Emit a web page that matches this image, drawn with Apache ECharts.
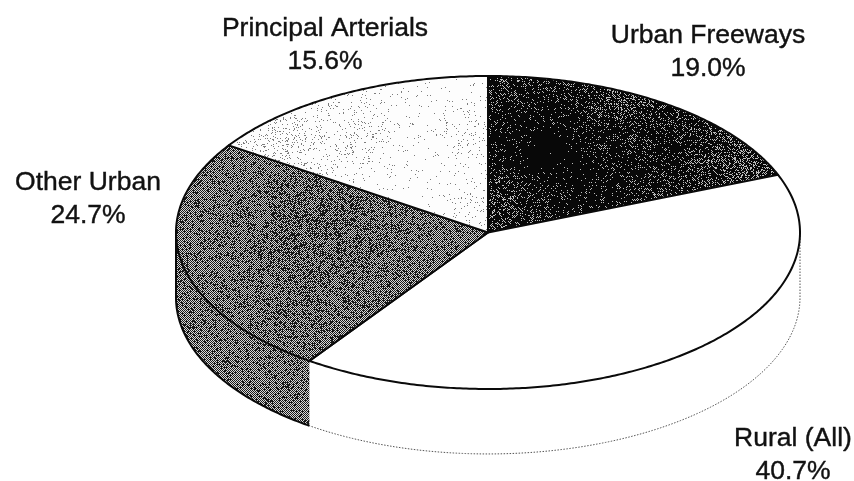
<!DOCTYPE html>
<html>
<head>
<meta charset="utf-8">
<style>html,body{margin:0;padding:0;background:#fff}#c{width:854px;height:481px}</style>
<script src="https://cdn.jsdelivr.net/npm/echarts@6/dist/echarts.min.js"></script>
</head>
<body>
<div id="c"></div>
<script>
// ---- data ----
const categories = ['Urban Freeways', 'Rural (All)', 'Other Urban', 'Principal Arterials'];
const shares = [19.0, 40.7, 24.7, 15.6];

// ---- layout ----
const W = 854, H = 481;
const DEPTH = 0.415;            // pie wall height, in vertical radii
const labelBoxes = [
  { x: 708, y: 19 }, { x: 793, y: 422 }, { x: 88, y: 166 }, { x: 325, y: 12 }
];

// ---- print-style dithered textures ----
function hash(x, y) {
  let h = (x * 374761393 + y * 668265263) | 0;
  h = Math.imul(h ^ (h >>> 13), 1274126177);
  return ((h ^ (h >>> 16)) >>> 0) / 4294967296;
}
function texture(base, blobs, checker, darkV, lightV) {
  const cv = document.createElement('canvas');
  cv.width = W; cv.height = H;
  const ctx = cv.getContext('2d');
  const img = ctx.createImageData(W, H);
  for (let y = 0; y < H; y++) for (let x = 0; x < W; x++) {
    let d = base;
    for (const b of blobs) {
      const q = ((x - b[0]) ** 2 + (y - b[1]) ** 2) / (b[2] * b[2]);
      d += b[3] * Math.exp(-q);
    }
    const s = checker * ((x + y) % 2 ? -1 : 1);
    const dark = hash(x, y) < d + s;
    const v = dark ? darkV : lightV;
    const i = (y * W + x) * 4;
    img.data[i] = img.data[i + 1] = img.data[i + 2] = v;
    img.data[i + 3] = 255;
  }
  ctx.putImageData(img, 0, 0);
  return { image: cv, repeat: 'no-repeat' };
}
const fills = [
  texture(0.80, [[545, 150, 60, 0.3], [650, 150, 45, 0.14], [600, 205, 30, 0.1], [620, 105, 40, -0.1], [505, 190, 25, -0.12], [740, 165, 25, -0.1]], 0.12, 8, 190),
  '#ffffff',
  texture(0.58, [[330, 235, 75, 0.18], [290, 320, 30, 0.1]], 0.42, 25, 215),
  texture(0.015, [[280, 150, 50, 0.1], [365, 135, 30, 0.06], [470, 130, 25, 0.05], [470, 210, 20, 0.07]], 0, 125, 253)
];

// ---- geometry through the chart's scales ----
const cumulative = [];
shares.reduce((acc, v, i) => (cumulative[i] = acc, acc + v), 0);
const total = shares.reduce((a, b) => a + b, 0);
const angleOf = pct => pct / total * Math.PI * 2;
function rim(api, a0, a1, drop) {
  const n = Math.max(2, Math.ceil((a1 - a0) / 0.01));
  const pts = [];
  for (let k = 0; k <= n; k++) {
    const t = a0 + (a1 - a0) * k / n;
    pts.push(api.coord([Math.sin(t), Math.cos(t) - drop]));
  }
  return pts;
}
function renderTop(params, api) {
  const i = params.dataIndex;
  const a0 = angleOf(cumulative[i]), a1 = angleOf(cumulative[i] + api.value(1));
  const pts = [api.coord([0, 0])].concat(rim(api, a0, a1, 0));
  return {
    type: 'polygon',
    shape: { points: pts },
    style: { fill: fills[i], stroke: '#0a0a0a', lineWidth: 2, lineJoin: 'round' }
  };
}
function renderWall(params, api) {
  const i = params.dataIndex;
  const a0 = Math.max(angleOf(cumulative[i]), Math.PI / 2);
  const a1 = Math.min(angleOf(cumulative[i] + api.value(1)), Math.PI * 1.5);
  if (a1 <= a0) return null;
  const upper = rim(api, a0, a1, 0);
  const lower = rim(api, a0, a1, DEPTH);
  const isLight = fills[i] === '#ffffff';
  const face = {
    type: 'polygon',
    shape: { points: upper.concat(lower.slice().reverse()) },
    style: { fill: fills[i] }
  };
  const edge = {
    type: 'polyline',
    shape: { points: isLight ? [upper[0]].concat(lower) : lower.concat([upper[upper.length - 1]]) },
    style: isLight
      ? { fill: 'none', stroke: '#555555', lineWidth: 1, lineDash: [1.5, 1.5] }
      : { fill: 'none', stroke: '#0a0a0a', lineWidth: 2 }
  };
  return { type: 'group', children: [face, edge] };
}

const rows = categories.map((c, i) => [c, shares[i]]);
const chart = echarts.init(document.getElementById('c'), null, { renderer: 'canvas', width: W, height: H });
const font = { fontFamily: 'Liberation Sans', fontSize: 26.5, fill: '#111111', stroke: '#111111', lineWidth: 0.4, lineHeight: 33, align: 'center', verticalAlign: 'top' };
chart.setOption({
  animation: false,
  backgroundColor: '#ffffff',
  grid: { left: 176, width: 624, top: 76, height: 313 * (1 + DEPTH / 2) },
  xAxis: { type: 'value', min: -1, max: 1, show: false },
  yAxis: { type: 'value', min: -1 - DEPTH, max: 1, show: false },
  graphic: categories.map((c, i) => ({
    type: 'text',
    x: labelBoxes[i].x,
    y: labelBoxes[i].y,
    style: Object.assign({ text: c + '\n' + shares[i].toFixed(1) + '%' }, font)
  })),
  series: [
    { type: 'custom', name: 'wall', coordinateSystem: 'cartesian2d', clip: false, z: 1, silent: true,
      renderItem: renderWall, data: rows, encode: { x: 1, y: 1 } },
    { type: 'custom', name: 'top', coordinateSystem: 'cartesian2d', clip: false, z: 2, silent: true,
      renderItem: renderTop, data: rows, encode: { x: 1, y: 1 } }
  ]
});
</script>
</body>
</html>
